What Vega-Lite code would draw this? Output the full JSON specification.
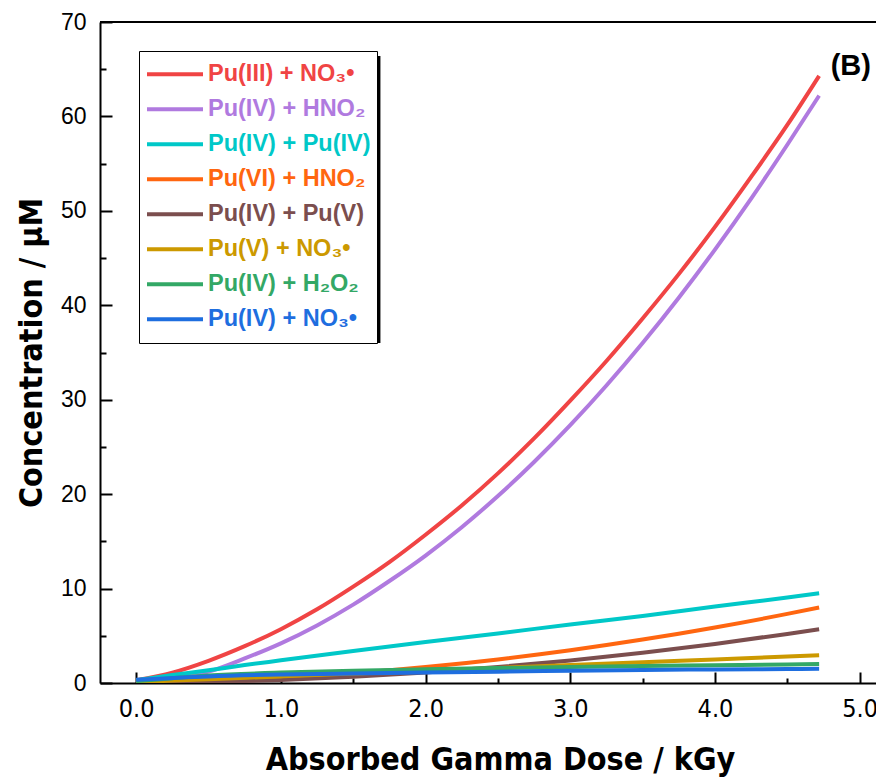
{
  "$schema": "https://vega.github.io/schema/vega-lite/v6.json",
  "autosize": {"type": "none"},
  "padding": {"left": 100, "top": 22, "right": 0, "bottom": 94},
  "width": 776,
  "height": 661,
  "background": "white",
  "config": {
    "view": {"stroke": null},
    "axis": {"domainColor": "black", "domainWidth": 2, "tickColor": "black", "tickWidth": 2, "grid": false, "labelColor": "black", "titleColor": "black"}
  },
  "datasets": {
    "curves": [
      {"x": 0, "s": "Pu(III) + NO₃•", "y": 0.3},
      {"x": 0.25, "s": "Pu(III) + NO₃•", "y": 1.1},
      {"x": 0.5, "s": "Pu(III) + NO₃•", "y": 2.35},
      {"x": 0.75, "s": "Pu(III) + NO₃•", "y": 3.9},
      {"x": 1, "s": "Pu(III) + NO₃•", "y": 5.7},
      {"x": 1.25, "s": "Pu(III) + NO₃•", "y": 7.8},
      {"x": 1.5, "s": "Pu(III) + NO₃•", "y": 10.2},
      {"x": 1.75, "s": "Pu(III) + NO₃•", "y": 12.8},
      {"x": 2, "s": "Pu(III) + NO₃•", "y": 15.7},
      {"x": 2.25, "s": "Pu(III) + NO₃•", "y": 18.8},
      {"x": 2.5, "s": "Pu(III) + NO₃•", "y": 22.2},
      {"x": 2.75, "s": "Pu(III) + NO₃•", "y": 25.9},
      {"x": 3, "s": "Pu(III) + NO₃•", "y": 29.9},
      {"x": 3.25, "s": "Pu(III) + NO₃•", "y": 34.1},
      {"x": 3.5, "s": "Pu(III) + NO₃•", "y": 38.6},
      {"x": 3.75, "s": "Pu(III) + NO₃•", "y": 43.3},
      {"x": 4, "s": "Pu(III) + NO₃•", "y": 48.3},
      {"x": 4.25, "s": "Pu(III) + NO₃•", "y": 53.6},
      {"x": 4.5, "s": "Pu(III) + NO₃•", "y": 59.1},
      {"x": 4.72, "s": "Pu(III) + NO₃•", "y": 64.3},

      {"x": 0, "s": "Pu(IV) + HNO₂", "y": 0.3},
      {"x": 0.25, "s": "Pu(IV) + HNO₂", "y": 0.5},
      {"x": 0.5, "s": "Pu(IV) + HNO₂", "y": 1.2},
      {"x": 0.75, "s": "Pu(IV) + HNO₂", "y": 2.6},
      {"x": 1, "s": "Pu(IV) + HNO₂", "y": 4.2},
      {"x": 1.25, "s": "Pu(IV) + HNO₂", "y": 6.1},
      {"x": 1.5, "s": "Pu(IV) + HNO₂", "y": 8.3},
      {"x": 1.75, "s": "Pu(IV) + HNO₂", "y": 10.8},
      {"x": 2, "s": "Pu(IV) + HNO₂", "y": 13.5},
      {"x": 2.25, "s": "Pu(IV) + HNO₂", "y": 16.5},
      {"x": 2.5, "s": "Pu(IV) + HNO₂", "y": 19.8},
      {"x": 2.75, "s": "Pu(IV) + HNO₂", "y": 23.4},
      {"x": 3, "s": "Pu(IV) + HNO₂", "y": 27.3},
      {"x": 3.25, "s": "Pu(IV) + HNO₂", "y": 31.5},
      {"x": 3.5, "s": "Pu(IV) + HNO₂", "y": 36.0},
      {"x": 3.75, "s": "Pu(IV) + HNO₂", "y": 40.8},
      {"x": 4, "s": "Pu(IV) + HNO₂", "y": 45.9},
      {"x": 4.25, "s": "Pu(IV) + HNO₂", "y": 51.3},
      {"x": 4.5, "s": "Pu(IV) + HNO₂", "y": 57.0},
      {"x": 4.72, "s": "Pu(IV) + HNO₂", "y": 62.2},

      {"x": 0, "s": "Pu(IV) + Pu(IV)", "y": 0.3},
      {"x": 0.25, "s": "Pu(IV) + Pu(IV)", "y": 0.85},
      {"x": 0.5, "s": "Pu(IV) + Pu(IV)", "y": 1.35},
      {"x": 0.75, "s": "Pu(IV) + Pu(IV)", "y": 1.9},
      {"x": 1, "s": "Pu(IV) + Pu(IV)", "y": 2.4},
      {"x": 1.5, "s": "Pu(IV) + Pu(IV)", "y": 3.4},
      {"x": 2, "s": "Pu(IV) + Pu(IV)", "y": 4.35},
      {"x": 2.5, "s": "Pu(IV) + Pu(IV)", "y": 5.25},
      {"x": 3, "s": "Pu(IV) + Pu(IV)", "y": 6.2},
      {"x": 3.5, "s": "Pu(IV) + Pu(IV)", "y": 7.1},
      {"x": 4, "s": "Pu(IV) + Pu(IV)", "y": 8.1},
      {"x": 4.5, "s": "Pu(IV) + Pu(IV)", "y": 9.05},
      {"x": 4.72, "s": "Pu(IV) + Pu(IV)", "y": 9.5},

      {"x": 0, "s": "Pu(VI) + HNO₂", "y": 0.1},
      {"x": 0.5, "s": "Pu(VI) + HNO₂", "y": 0.2},
      {"x": 1, "s": "Pu(VI) + HNO₂", "y": 0.53},
      {"x": 1.5, "s": "Pu(VI) + HNO₂", "y": 1.03},
      {"x": 2, "s": "Pu(VI) + HNO₂", "y": 1.69},
      {"x": 2.5, "s": "Pu(VI) + HNO₂", "y": 2.5},
      {"x": 3, "s": "Pu(VI) + HNO₂", "y": 3.47},
      {"x": 3.5, "s": "Pu(VI) + HNO₂", "y": 4.6},
      {"x": 4, "s": "Pu(VI) + HNO₂", "y": 5.88},
      {"x": 4.5, "s": "Pu(VI) + HNO₂", "y": 7.32},
      {"x": 4.72, "s": "Pu(VI) + HNO₂", "y": 8.0},

      {"x": 0, "s": "Pu(IV) + Pu(V)", "y": 0.0},
      {"x": 0.5, "s": "Pu(IV) + Pu(V)", "y": 0.1},
      {"x": 1, "s": "Pu(IV) + Pu(V)", "y": 0.32},
      {"x": 1.5, "s": "Pu(IV) + Pu(V)", "y": 0.65},
      {"x": 2, "s": "Pu(IV) + Pu(V)", "y": 1.11},
      {"x": 2.5, "s": "Pu(IV) + Pu(V)", "y": 1.69},
      {"x": 3, "s": "Pu(IV) + Pu(V)", "y": 2.39},
      {"x": 3.5, "s": "Pu(IV) + Pu(V)", "y": 3.21},
      {"x": 4, "s": "Pu(IV) + Pu(V)", "y": 4.14},
      {"x": 4.5, "s": "Pu(IV) + Pu(V)", "y": 5.2},
      {"x": 4.72, "s": "Pu(IV) + Pu(V)", "y": 5.7},

      {"x": 0, "s": "Pu(V) + NO₃•", "y": 0.1},
      {"x": 0.5, "s": "Pu(V) + NO₃•", "y": 0.4},
      {"x": 1, "s": "Pu(V) + NO₃•", "y": 0.7},
      {"x": 1.5, "s": "Pu(V) + NO₃•", "y": 1.0},
      {"x": 2, "s": "Pu(V) + NO₃•", "y": 1.3},
      {"x": 2.5, "s": "Pu(V) + NO₃•", "y": 1.6},
      {"x": 3, "s": "Pu(V) + NO₃•", "y": 1.9},
      {"x": 3.5, "s": "Pu(V) + NO₃•", "y": 2.2},
      {"x": 4, "s": "Pu(V) + NO₃•", "y": 2.5},
      {"x": 4.5, "s": "Pu(V) + NO₃•", "y": 2.8},
      {"x": 4.72, "s": "Pu(V) + NO₃•", "y": 2.95},

      {"x": 0, "s": "Pu(IV) + H₂O₂", "y": 0.2},
      {"x": 0.25, "s": "Pu(IV) + H₂O₂", "y": 0.5},
      {"x": 0.5, "s": "Pu(IV) + H₂O₂", "y": 0.8},
      {"x": 1, "s": "Pu(IV) + H₂O₂", "y": 1.1},
      {"x": 1.5, "s": "Pu(IV) + H₂O₂", "y": 1.3},
      {"x": 2, "s": "Pu(IV) + H₂O₂", "y": 1.45},
      {"x": 2.5, "s": "Pu(IV) + H₂O₂", "y": 1.58},
      {"x": 3, "s": "Pu(IV) + H₂O₂", "y": 1.7},
      {"x": 3.5, "s": "Pu(IV) + H₂O₂", "y": 1.8},
      {"x": 4, "s": "Pu(IV) + H₂O₂", "y": 1.88},
      {"x": 4.5, "s": "Pu(IV) + H₂O₂", "y": 1.96},
      {"x": 4.72, "s": "Pu(IV) + H₂O₂", "y": 2.0},

      {"x": 0, "s": "Pu(IV) + NO₃•", "y": 0.35},
      {"x": 0.5, "s": "Pu(IV) + NO₃•", "y": 0.7},
      {"x": 1, "s": "Pu(IV) + NO₃•", "y": 0.9},
      {"x": 1.5, "s": "Pu(IV) + NO₃•", "y": 1.0},
      {"x": 2, "s": "Pu(IV) + NO₃•", "y": 1.1},
      {"x": 2.5, "s": "Pu(IV) + NO₃•", "y": 1.2},
      {"x": 3, "s": "Pu(IV) + NO₃•", "y": 1.3},
      {"x": 3.5, "s": "Pu(IV) + NO₃•", "y": 1.38},
      {"x": 4, "s": "Pu(IV) + NO₃•", "y": 1.44},
      {"x": 4.5, "s": "Pu(IV) + NO₃•", "y": 1.48},
      {"x": 4.72, "s": "Pu(IV) + NO₃•", "y": 1.5}
    ]
  },
  "layer": [
    {
      "data": {"values": [{"t": 1}]},
      "mark": {"type": "rect", "color": "black"},
      "encoding": {"x": {"datum": 0.05}, "x2": {"datum": 1.688}, "y": {"datum": 66.40}, "y2": {"datum": 36.01}}
    },
    {
      "data": {"name": "curves"},
      "mark": {"type": "line", "strokeWidth": 4, "interpolate": "monotone", "clip": true},
      "encoding": {
        "x": {
          "field": "x", "type": "quantitative",
          "scale": {"domain": [-0.25, 5.113], "nice": false, "zero": false},
          "axis": {
            "title": "Absorbed Gamma Dose / kGy",
            "values": [0, 0.5, 1, 1.5, 2, 2.5, 3, 3.5, 4, 4.5, 5],
            "labelExpr": "datum.value % 1 === 0 ? format(datum.value, '.1f') : ''",
            "tickSize": {"condition": {"test": "datum.value % 1 === 0", "value": -11}, "value": -5},
            "labelFont": "Liberation Sans Narrow, DejaVu Sans Condensed, Liberation Sans",
            "labelFontSize": 25,
            "labelPadding": 24,
            "labelFlush": false,
            "titleFont": "Liberation Sans Narrow, DejaVu Sans Condensed, Liberation Sans",
            "titleFontSize": 32,
            "titleFontWeight": "bold",
            "titleX": 400,
            "titlePadding": 23
          }
        },
        "y": {
          "field": "y", "type": "quantitative",
          "scale": {"domain": [0, 70], "nice": false},
          "axis": {
            "title": "Concentration / μM",
            "values": [0, 5, 10, 15, 20, 25, 30, 35, 40, 45, 50, 55, 60, 65, 70],
            "labelExpr": "datum.value % 10 === 0 ? format(datum.value, 'd') : ''",
            "tickSize": {"condition": {"test": "datum.value % 10 === 0", "value": -12}, "value": -6},
            "labelFont": "Liberation Sans, Arial",
            "labelFontSize": 23,
            "labelPadding": 26,
            "labelFlush": false,
            "titleFont": "Liberation Sans Narrow, DejaVu Sans Condensed, Liberation Sans",
            "titleFontSize": 32,
            "titleFontWeight": "bold",
            "titlePadding": 12
          }
        },
        "color": {
          "field": "s", "type": "nominal",
          "scale": {
            "domain": ["Pu(III) + NO₃•", "Pu(IV) + HNO₂", "Pu(IV) + Pu(IV)", "Pu(VI) + HNO₂", "Pu(IV) + Pu(V)", "Pu(V) + NO₃•", "Pu(IV) + H₂O₂", "Pu(IV) + NO₃•"],
            "range": ["#F04444", "#B07ADF", "#00C8C8", "#FF6610", "#7B4E4E", "#CC9900", "#33A866", "#1E6EDF"]
          },
          "legend": {
            "title": null,
            "orient": "none",
            "legendX": 39,
            "legendY": 29,
            "fillColor": "white",
            "strokeColor": "black",
            "padding": 6,
            "rowPadding": 0,
            "clipHeight": 34.4,
            "symbolType": "stroke",
            "symbolSize": 3136,
            "symbolStrokeWidth": 4,
            "labelFont": "Liberation Sans, Arial",
            "labelFontSize": 23.5,
            "labelFontWeight": "bold",
            "labelOffset": 3,
            "labelLimit": 300,
            "encode": {"labels": {"update": {"fill": {"scale": "color", "field": "value"}}}}
          }
        }
      }
    },
    {
      "data": {"values": [{"t": 1}]},
      "mark": {"type": "rule", "color": "black", "strokeWidth": 2},
      "encoding": {"y": {"datum": 70}}
    },
    {
      "data": {"values": [{"label": "(B)"}]},
      "mark": {"type": "text", "align": "left", "baseline": "middle", "font": "Liberation Sans, Arial", "fontSize": 29, "fontWeight": "bold", "color": "black"},
      "encoding": {"x": {"datum": 4.8}, "y": {"datum": 65.3}, "text": {"field": "label"}}
    }
  ]
}
